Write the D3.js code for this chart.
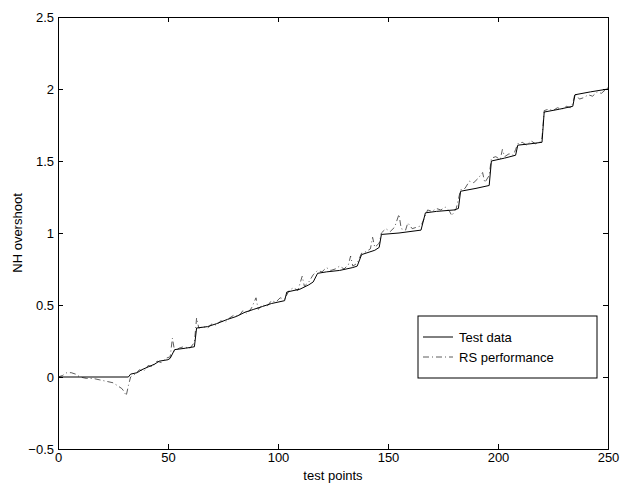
<!DOCTYPE html>
<html>
<head>
<meta charset="utf-8">
<script src="https://cdn.jsdelivr.net/npm/d3@7"></script>
<style>
  body { margin: 0; background: #fff; }
  text { font-family: "Liberation Sans", Arial, sans-serif; }
</style>
</head>
<body>
<div id="graph_draw"></div>
<script>
// test data (solid staircase), breakpoints
var testX = [0, 32, 33, 36, 38, 41, 44, 46, 50, 51, 53, 58, 62, 63, 68, 72, 77, 81, 85, 89, 93, 97, 103, 104, 110, 114, 116, 118, 122, 128, 134, 136, 138, 144, 146, 147, 155, 160, 165, 167, 172, 180, 182, 183, 190, 196, 197, 203, 208, 209, 215, 220, 221, 228, 234, 235, 242, 250];
var testY = [0, 0, 0.02, 0.03, 0.05, 0.07, 0.09, 0.11, 0.12, 0.13, 0.19, 0.2, 0.21, 0.34, 0.35, 0.37, 0.40, 0.42, 0.45, 0.47, 0.49, 0.51, 0.53, 0.59, 0.61, 0.64, 0.66, 0.72, 0.73, 0.74, 0.76, 0.77, 0.85, 0.88, 0.90, 0.99, 1.0, 1.01, 1.02, 1.14, 1.15, 1.16, 1.17, 1.29, 1.31, 1.33, 1.50, 1.52, 1.54, 1.61, 1.62, 1.63, 1.84, 1.86, 1.88, 1.96, 1.98, 2.0];

// RS performance (dash-dot)
var rsX = [0, 2, 4, 6, 8, 10, 13, 16, 19, 22, 25, 27, 29, 30, 31, 32, 33, 35, 37, 39, 41, 43, 45, 47, 49, 51, 52, 53, 55, 57, 60, 62, 63, 64, 66, 68, 70, 72, 74, 76, 78, 80, 82, 84, 86, 88, 90, 91, 93, 95, 97, 99, 101, 103, 105, 107, 109, 111, 112, 114, 116, 118, 120, 122, 124, 126, 128, 130, 132, 133, 134, 136, 138, 140, 142, 143, 144, 146, 147, 149, 151, 153, 155, 156, 158, 159, 161, 163, 165, 167, 168, 170, 172, 174, 176, 178, 179, 181, 183, 185, 187, 189, 191, 193, 194, 196, 197, 199, 201, 202, 203, 205, 207, 208, 209, 211, 213, 215, 217, 219, 220, 221, 223, 225, 227, 229, 231, 233, 234, 235, 237, 239, 241, 243, 245, 247, 250];
var rsY = [0.0, 0.01, 0.03, 0.03, 0.02, 0.0, -0.01, -0.01, -0.02, -0.03, -0.04, -0.06, -0.08, -0.1, -0.13, -0.06, 0.0, 0.02, 0.05, 0.04, 0.08, 0.07, 0.11, 0.10, 0.13, 0.14, 0.27, 0.18, 0.2, 0.21, 0.2, 0.24, 0.41, 0.34, 0.35, 0.34, 0.37, 0.36, 0.39, 0.38, 0.41, 0.43, 0.42, 0.46, 0.44, 0.48, 0.55, 0.47, 0.50, 0.49, 0.53, 0.52, 0.55, 0.54, 0.60, 0.62, 0.60, 0.70, 0.63, 0.66, 0.71, 0.74, 0.73, 0.76, 0.74, 0.75, 0.77, 0.75, 0.78, 0.84, 0.77, 0.79, 0.86, 0.87, 0.89, 0.97, 0.90, 0.93, 1.0, 1.03, 1.01, 1.04, 1.13, 1.03, 1.02, 1.07, 1.03, 1.04, 1.05, 1.12, 1.16, 1.15, 1.17, 1.16, 1.18, 1.15, 1.12, 1.17, 1.30, 1.31, 1.36, 1.35, 1.38, 1.42, 1.35, 1.40, 1.52, 1.53, 1.51, 1.58, 1.53, 1.55, 1.54, 1.58, 1.62, 1.63, 1.61, 1.64, 1.62, 1.63, 1.66, 1.85, 1.86, 1.85, 1.87, 1.86, 1.88, 1.87, 1.90, 1.97, 1.93, 1.94, 1.96, 1.95, 1.98, 1.97, 2.01];

var xTicks = [0, 50, 100, 150, 200, 250];
var yTicks = [-0.5, 0, 0.5, 1, 1.5, 2, 2.5];
var legendLabels = ["Test data", "RS performance"];

var W = 620, H = 486;
var margin = {top: 17, right: 12, bottom: 37, left: 58},
    width = W - margin.left - margin.right,
    height = H - margin.top - margin.bottom;

var svg = d3.select("#graph_draw").append("svg")
    .attr("width", W)
    .attr("height", H)
  .append("g")
    .attr("transform", "translate(" + margin.left + "," + margin.top + ")");

var x = d3.scaleLinear().domain([0, 250]).range([0, width]);
var y = d3.scaleLinear().domain([-0.5, 2.5]).range([height, 0]);

var fmt = function(d){ return d < 0 ? "\u2212" + Math.abs(d) : d; };
var tk = 5;

// axes, MATLAB style: ticks inside on every side
svg.append("g")
    .attr("transform", "translate(0," + height + ")")
    .call(d3.axisBottom(x).tickValues(xTicks).tickSize(-tk).tickPadding(4).tickFormat(fmt));
svg.append("g")
    .call(d3.axisTop(x).tickValues(xTicks).tickSize(-tk).tickFormat(""));
svg.append("g")
    .call(d3.axisLeft(y).tickValues(yTicks).tickSize(-tk).tickPadding(4).tickFormat(fmt));
svg.append("g")
    .attr("transform", "translate(" + width + ",0)")
    .call(d3.axisRight(y).tickValues(yTicks).tickSize(-tk).tickFormat(""));

svg.selectAll(".domain").attr("stroke", "#000").attr("stroke-width", 1);
svg.selectAll(".tick line").attr("stroke", "#000");
svg.selectAll(".tick text").attr("fill", "#000").style("font-size", "13px")
    .style("font-family", "Liberation Sans, Arial, sans-serif");

var line = d3.line()
    .x(function(d){ return x(d[0]); })
    .y(function(d){ return y(d[1]); });

var rsData = rsX.map(function(v, i){ return [v, rsY[i]]; });
var testData = testX.map(function(v, i){ return [v, testY[i]]; });

svg.append("path")
    .datum(rsData)
    .attr("fill", "none")
    .attr("stroke", "#333")
    .attr("stroke-width", 0.8)
    .attr("stroke-dasharray", "6,3,1,3")
    .attr("d", line);

svg.append("path")
    .datum(testData)
    .attr("fill", "none")
    .attr("stroke", "#000")
    .attr("stroke-width", 1)
    .attr("d", line);

// axis labels
svg.append("text")
    .attr("x", width / 2)
    .attr("y", height + 31)
    .attr("text-anchor", "middle")
    .style("font-size", "13px")
    .text("test points");

svg.append("text")
    .attr("transform", "rotate(-90)")
    .attr("x", -height / 2)
    .attr("y", -36)
    .attr("text-anchor", "middle")
    .style("font-size", "13px")
    .text("NH overshoot");

// legend
var lg = svg.append("g").attr("transform", "translate(" + (418 - margin.left) + "," + (316 - margin.top) + ")");
lg.append("rect")
    .attr("width", 179).attr("height", 62)
    .attr("fill", "#fff").attr("stroke", "#000").attr("stroke-width", 1);
legendLabels.forEach(function(l, i){
    var yy = 21 + i * 20;
    lg.append("line")
        .attr("x1", 5).attr("x2", 35).attr("y1", yy).attr("y2", yy)
        .attr("stroke", i == 0 ? "#000" : "#333")
        .attr("stroke-width", i == 0 ? 1 : 0.8)
        .attr("stroke-dasharray", i == 0 ? null : "6,3,1,3");
    lg.append("text")
        .attr("x", 41).attr("y", yy + 5)
        .style("font-size", "13px")
        .text(l);
});
</script>
</body>
</html>
